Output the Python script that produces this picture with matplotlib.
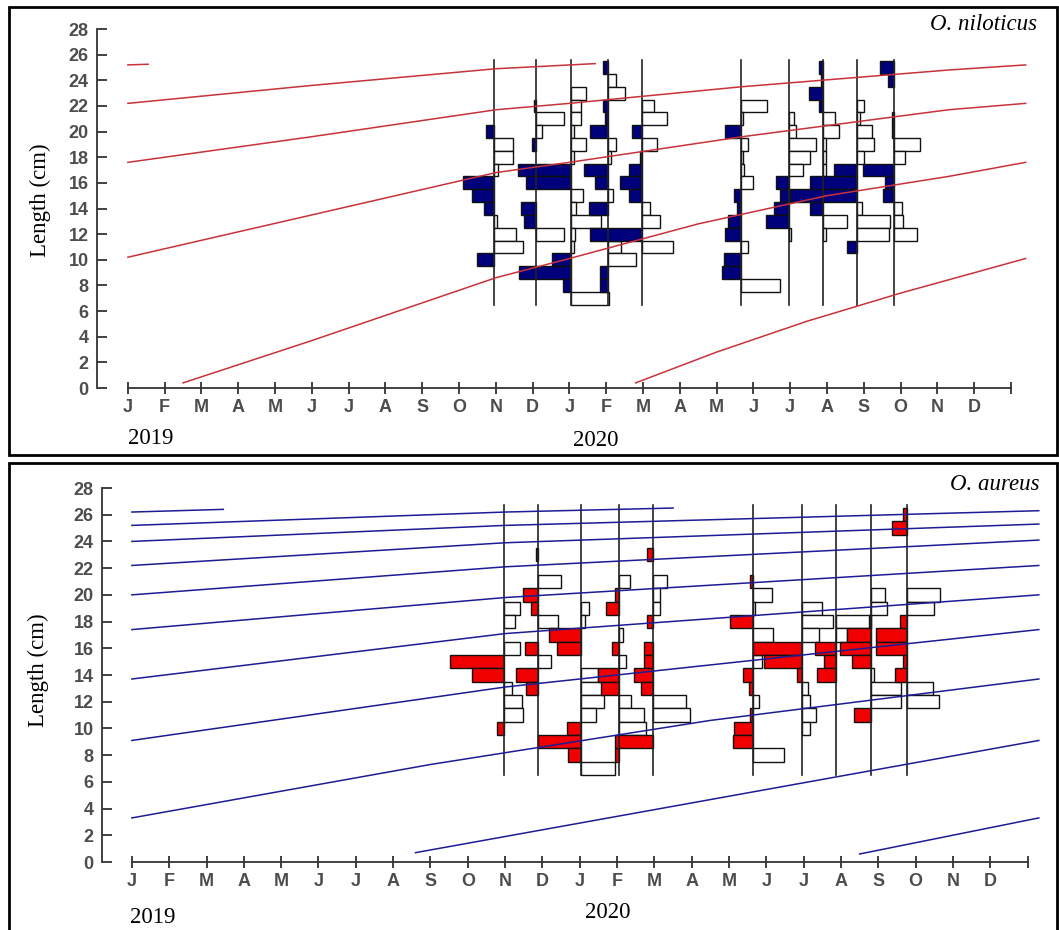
import numpy as np
import matplotlib.pyplot as plt
from matplotlib.patches import Rectangle

month_labels = ['J', 'F', 'M', 'A', 'M', 'J', 'J', 'A', 'S', 'O', 'N', 'D'] * 2

# sampling dates, months after 1 Jan 2019
nil_dates = [9.95, 11.1, 12.04, 13.04, 13.97, 16.66, 17.96, 18.89, 19.81, 20.82]
aur_dates = [9.97, 10.88, 12.04, 13.06, 13.97, 16.65, 17.96, 18.87, 19.81, 20.78]

# restructured length frequencies, {length class (cm): score}
# score > 0 -> filled bar to the left, score < 0 -> open bar to the right
nil_hist = [
    {20: 8, 19: -19, 18: -19, 17: -4, 16: 31, 15: 22, 14: 10, 13: -3, 12: -22, 11: -29, 10: 17},
    {22: 2, 21: -28, 20: -6, 19: 4, 14: 15, 13: 12, 12: -28},
    {23: -15, 22: -10, 21: -10, 20: -3, 19: -15, 18: -3, 17: 53, 16: 45, 15: -12, 14: -5,
     13: -30, 12: -4, 11: -3, 10: 19, 9: 52, 8: 8, 7: -38},
    {25: 5, 24: -8, 23: -17, 22: 5, 21: 3, 20: 18, 19: -8, 18: -3, 17: 24, 16: 13, 15: -5,
     14: 19, 11: -13, 10: -28, 9: 8, 8: 8},
    {22: -12, 21: -25, 20: 10, 19: -15, 18: 2, 17: 13, 16: 22, 15: 13, 14: -8, 13: -18,
     12: 52, 11: -31},
    {22: -26, 21: -2, 20: 16, 19: -7, 18: -2, 17: -3, 16: -12, 15: 7, 14: 4, 13: 13, 12: 16,
     11: -7, 10: 17, 9: 19, 8: -39},
    {21: -5, 20: -7, 19: -27, 18: -21, 17: -14, 16: 13, 15: 9, 14: 15, 13: 23, 12: -2},
    {25: 4, 24: 2, 23: 14, 22: 4, 21: -12, 20: -16, 19: -3, 18: -3, 17: -3, 15: 33, 14: 13,
     13: -24, 12: -3},
    {22: -7, 21: -3, 20: -15, 19: -17, 18: -7, 17: 23, 16: 47, 15: 34, 14: -5, 13: -33,
     12: -32, 11: 10},
    {25: 14, 24: 6, 21: 2, 20: 2, 19: -26, 18: -11, 17: 31, 16: 9, 15: 11, 14: -8, 13: -9,
     12: -23},
]

aur_hist = [
    {19: -16, 18: -11, 16: -16, 15: 53, 14: 32, 13: -8, 12: -18, 11: -19, 10: 7},
    {23: 2, 21: -23, 20: 15, 19: 7, 18: -20, 16: 13, 15: -13, 14: 22, 13: 12},
    {19: -8, 18: -4, 17: 32, 16: 24, 14: -17, 13: -21, 12: -22, 11: -15, 10: 14, 9: 43,
     8: 13, 7: -33},
    {21: -11, 20: 4, 19: 13, 17: -4, 16: 7, 15: -7, 14: 21, 13: 18, 12: -12, 11: -24,
     10: -26, 8: 4},
    {23: 6, 21: -14, 20: -7, 19: -7, 18: 6, 16: 9, 15: 9, 14: 19, 13: 12, 12: -32, 11: -36,
     9: 38},
    {21: 3, 20: -18, 19: -2, 18: 23, 17: -19, 15: -9, 14: 10, 13: 4, 12: -6, 11: 3, 10: 19,
     9: 20, 8: -30},
    {19: -20, 18: -30, 17: -17, 16: 48, 15: 38, 14: 5, 13: -6, 12: -8, 11: -14, 10: -8},
    {18: -34, 17: -11, 16: 21, 15: 12, 14: 19},
    {20: -14, 19: -16, 18: 2, 17: 24, 16: 31, 15: 19, 14: -3, 13: -29, 12: -29, 11: 17},
    {26: 4, 25: 15, 20: -32, 19: -26, 18: 7, 17: 31, 16: 31, 15: 4, 14: 12, 13: -25, 12: -31},
]

# growth curves: (month, length cm)
nil_curves = [
    [(0, 25.2), (0.55, 25.25)],
    [(0, 22.2), (5, 23.6), (10, 24.9), (12.7, 25.3)],
    [(0, 17.6), (5, 19.6), (10, 21.7), (12, 22.2), (16.7, 23.5), (22.3, 24.8), (24.4, 25.2)],
    [(0, 10.2), (5, 13.5), (10, 16.8), (12, 17.6), (16.7, 19.6), (22.3, 21.7), (24.4, 22.2)],
    [(1.5, 0.4), (5, 3.7), (10, 8.6), (12, 10.1), (15.5, 12.8), (19, 15.0), (22.3, 16.5),
     (24.4, 17.6)],
    [(13.8, 0.4), (16, 2.8), (18.45, 5.2), (21, 7.4), (24.4, 10.1)],
]

aur_curves = [
    [(0, 26.2), (2.45, 26.4)],
    [(0, 25.2), (10, 26.2), (14.5, 26.5)],
    [(0, 24.0), (10, 25.2), (24.3, 26.3)],
    [(0, 22.2), (10, 23.9), (24.3, 25.3)],
    [(0, 20.0), (10, 22.1), (24.3, 24.1)],
    [(0, 17.4), (10, 19.8), (24.3, 22.2)],
    [(0, 13.7), (10, 17.1), (24.3, 20.0)],
    [(0, 9.1), (10, 13.1), (24.3, 17.4)],
    [(0, 3.3), (8, 7.3), (15.5, 10.6), (24.3, 13.7)],
    [(7.6, 0.7), (24.3, 9.1)],
    [(19.5, 0.6), (24.3, 3.3)],
]

W, H = 1059, 930
fig = plt.figure(figsize=(W / 100, H / 100), dpi=100)

tick_font = dict(family='Liberation Sans', weight='bold', size=13, color='#4d4d4d')


def make_axes(rect, xmin):
    ax = fig.add_axes(rect)
    ax.set_xlim(xmin, 24.6)
    ax.set_ylim(0, 28)
    for s in ['top', 'right']:
        ax.spines[s].set_visible(False)
    for s in ['left', 'bottom']:
        ax.spines[s].set_color('#333333')
        ax.spines[s].set_linewidth(1.3)
    ax.spines['bottom'].set_bounds(0, 24)
    ax.set_yticks(range(0, 29, 2))
    ax.set_yticklabels([str(v) for v in range(0, 29, 2)], fontdict=tick_font)
    ax.set_xticks(range(0, 25))
    ax.set_xticklabels(month_labels + [''], fontdict=tick_font)
    ax.tick_params(axis='y', direction='in', length=7, width=1.3, color='#333333', pad=6)
    ax.tick_params(axis='x', direction='inout', length=8, width=1.3, color='#333333', pad=4)
    return ax


def draw_panel(ax, dates, hist, curves, fill, curve_col, top):
    scale = 1 / 36.8
    for d, h in zip(dates, hist):
        ax.plot([d, d], [6.5, top], color='#222222', lw=1.2, zorder=3)
        for L, v in h.items():
            w = abs(v) * scale
            if v > 0:
                r = Rectangle((d - w, L - 0.5), w, 1, facecolor=fill, edgecolor='#111111',
                              lw=1.0, zorder=2)
            else:
                r = Rectangle((d, L - 0.5), w, 1, facecolor='white', edgecolor='#111111',
                              lw=1.0, zorder=1.5)
            ax.add_patch(r)
    for c in curves:
        c = np.array(c)
        ax.plot(c[:, 0], c[:, 1], color=curve_col, lw=1.1, zorder=4)


ax1 = make_axes([97 / W, 1 - 388 / H, (1033 - 97) / W, 359 / H], -0.84)
draw_panel(ax1, nil_dates, nil_hist, nil_curves, '#00007a', '#c8323a', 25.6)

ax2 = make_axes([102 / W, 1 - 862 / H, (1050 - 102) / W, 374 / H], -0.80)
draw_panel(ax2, aur_dates, aur_hist, aur_curves, '#f00000', '#1c1c96', 26.7)

# panel frames
fig.patches.append(Rectangle((9 / W, 1 - 455 / H), 1048 / W, 448 / H, transform=fig.transFigure,
                             fill=False, lw=2, edgecolor='black'))
fig.patches.append(Rectangle((9 / W, -0.01), 1048 / W, 1 - 463 / H + 0.01,
                             transform=fig.transFigure, fill=False, lw=2, edgecolor='black'))

serif = dict(family='Liberation Serif', size=16.5, color='black')
fig.text(40 / W, 1 - 200 / H, 'Length (cm)', rotation=90, ha='center', va='center', **serif)
fig.text(38 / W, 1 - 670 / H, 'Length (cm)', rotation=90, ha='center', va='center', **serif)
fig.text(128 / W, 1 - 438 / H, '2019', ha='left', va='center', **serif)
fig.text(573 / W, 1 - 440 / H, '2020', ha='left', va='center', **serif)
fig.text(130 / W, 1 - 917 / H, '2019', ha='left', va='center', **serif)
fig.text(585 / W, 1 - 912 / H, '2020', ha='left', va='center', **serif)
fig.text(1037 / W, 1 - 24 / H, 'O. niloticus', ha='right', va='center', style='italic', **serif)
fig.text(1040 / W, 1 - 484 / H, 'O. aureus', ha='right', va='center', style='italic', **serif)

fig.savefig('out.png', dpi=100)
